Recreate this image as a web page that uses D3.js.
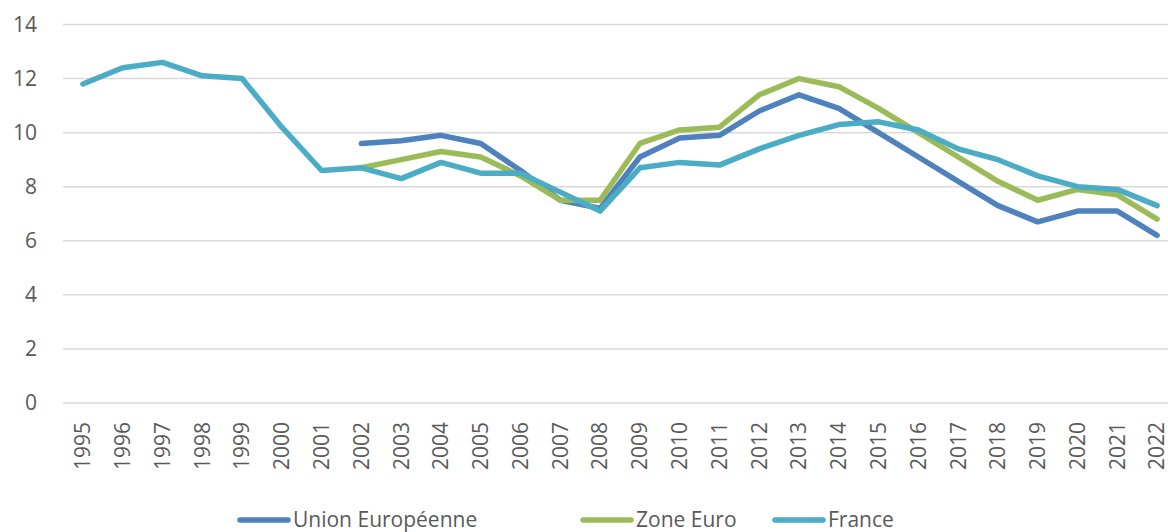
<!DOCTYPE html>
<html>
<head>
<meta charset="utf-8">
<script src="https://cdn.jsdelivr.net/npm/d3@7"></script>
<style>
  body { margin: 0; background: #fff; }
  svg { display: block; font-family: "Open Sans", sans-serif; }
</style>
</head>
<body>
<svg id="chart" width="1168" height="532"></svg>
<script>
const years = d3.range(1995, 2023).map(String);

// valeurs (null = pas de donnée)
const unionEuropeenne = [null, null, null, null, null, null, null,
    9.6, 9.7, 9.9, 9.6, 8.6, 7.5, 7.2, 9.1, 9.8, 9.9, 10.8, 11.4, 10.9, 10.0, 9.1, 8.2, 7.3, 6.7, 7.1, 7.1, 6.2];
const zoneEuro = [null, null, null, null, null, null, null,
    8.7, 9.0, 9.3, 9.1, 8.4, 7.5, 7.5, 9.6, 10.1, 10.2, 11.4, 12.0, 11.7, 10.9, 10.0, 9.1, 8.2, 7.5, 7.9, 7.7, 6.8];
const france = [11.8, 12.4, 12.6, 12.1, 12.0, 10.2, 8.6, 8.7, 8.3, 8.9, 8.5, 8.5, 7.8, 7.1,
    8.7, 8.9, 8.8, 9.4, 9.9, 10.3, 10.4, 10.1, 9.4, 9.0, 8.4, 8.0, 7.9, 7.3];
const yTicks = [0, 2, 4, 6, 8, 10, 12, 14];

const series = [
    { name: "Union Européenne", values: unionEuropeenne, color: "#4f81bd" },
    { name: "Zone Euro", values: zoneEuro, color: "#9bbb59" },
    { name: "France", values: france, color: "#4bacc6" }
];

const svg = d3.select("#chart");
const plotLeft = 63, plotRight = 1177, plotTop = 24.5, plotBottom = 403;

const x = d3.scaleBand().domain(years).range([plotLeft, plotRight]);
const y = d3.scaleLinear().domain([0, 14]).range([plotBottom, plotTop]);

// grid lines
svg.append("g")
    .selectAll("line")
    .data(yTicks)
    .enter()
    .append("line")
    .attr("x1", plotLeft)
    .attr("x2", plotRight)
    .attr("y1", d => y(d))
    .attr("y2", d => y(d))
    .style("stroke", "#d9d9d9")
    .style("stroke-width", 1.5);

// y axis labels
svg.append("g")
    .selectAll("text")
    .data(yTicks)
    .enter()
    .append("text")
    .attr("x", 37)
    .attr("y", d => y(d))
    .attr("dy", "0.35em")
    .attr("text-anchor", "end")
    .style("font-size", "21px")
    .style("fill", "#595959")
    .text(d => d);

// x axis labels, rotated
svg.append("g")
    .selectAll("text")
    .data(years)
    .enter()
    .append("text")
    .attr("transform", d => `translate(${x(d) + x.bandwidth() / 2},422) rotate(-90)`)
    .attr("dy", "0.35em")
    .attr("text-anchor", "end")
    .style("font-size", "21px")
    .style("fill", "#595959")
    .text(d => d);

const line = d3.line()
    .defined(d => d != null)
    .x((d, i) => x(years[i]) + x.bandwidth() / 2)
    .y(d => y(d));

svg.append("g")
    .selectAll("path")
    .data(series)
    .enter()
    .append("path")
    .attr("d", d => line(d.values))
    .style("fill", "none")
    .style("stroke", d => d.color)
    .style("stroke-width", 5.5)
    .style("stroke-linecap", "round")
    .style("stroke-linejoin", "round");

// legend
const legendPos = [240, 583, 775];
const legend = svg.append("g")
    .selectAll("g")
    .data(series)
    .enter()
    .append("g")
    .attr("transform", (d, i) => `translate(${legendPos[i]},520)`);

legend.append("line")
    .attr("x1", 0)
    .attr("x2", 48)
    .style("stroke", d => d.color)
    .style("stroke-width", 5.5)
    .style("stroke-linecap", "round");

legend.append("text")
    .attr("x", 53)
    .attr("dy", "0.35em")
    .style("font-size", "21px")
    .style("fill", "#595959")
    .text(d => d.name);
</script>
</body>
</html>
